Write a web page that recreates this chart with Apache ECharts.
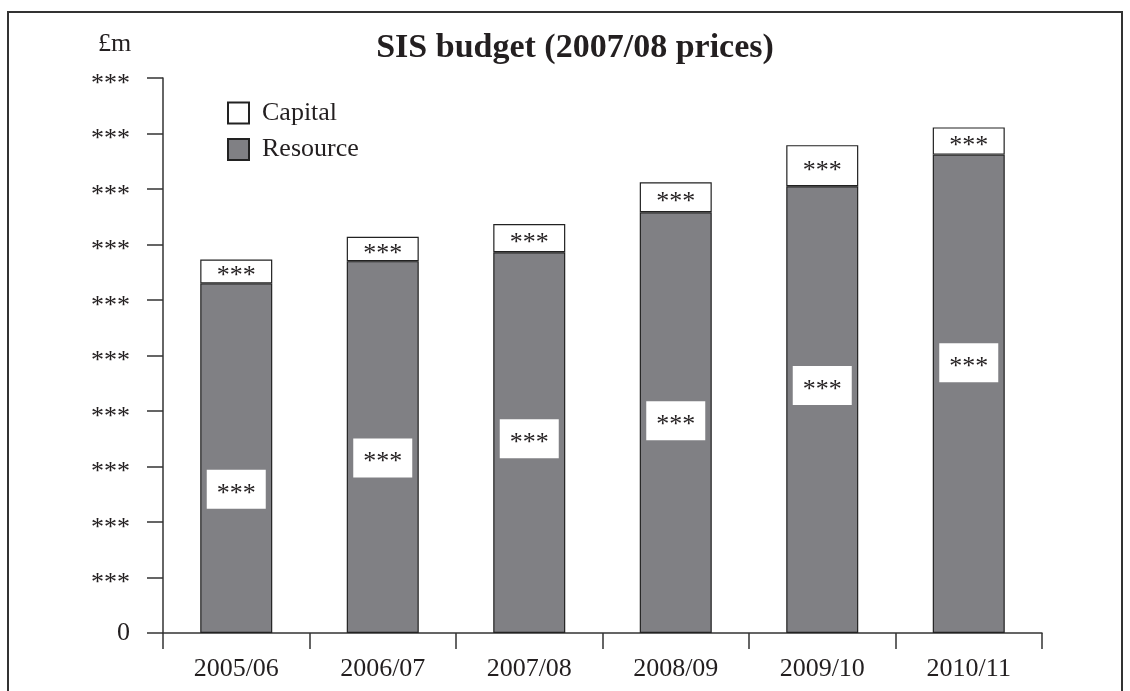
<!DOCTYPE html>
<html>
<head>
<meta charset="utf-8">
<script src="https://cdn.jsdelivr.net/npm/echarts@6/dist/echarts.min.js"></script>
<style>
  html, body { margin: 0; padding: 0; background: #fff; }
  #chart { width: 1130px; height: 691px; }
</style>
</head>
<body>
<div id="chart"></div>
<script>
// SIS budget, values (axis labels are masked, unit = one tick)
var years = ['2005/06', '2006/07', '2007/08', '2008/09', '2009/10', '2010/11'];
var resource = [6.30, 6.70, 6.86, 7.58, 8.05, 8.62];
var capital = [0.43, 0.44, 0.51, 0.54, 0.74, 0.49];
var yTicks = ['0', '***', '***', '***', '***', '***', '***', '***', '***', '***', '***'];

var font = 'Liberation Serif';
var ink = '#231f20';
// vertical nudge of the white label boxes on the resource bars
var resLabelDy = [31, 11, -4, -2, -24, -31];

var chart = echarts.init(document.getElementById('chart'));

var resData = resource.map(function (v, i) {
    return { value: v, label: { offset: [0, resLabelDy[i]] } };
});

chart.setOption({
    animation: false,
    backgroundColor: '#fff',
    textStyle: { fontFamily: font, color: ink },
    title: [
        {
            text: 'SIS budget (2007/08 prices)',
            left: 570, top: 26, textAlign: 'center',
            textStyle: { fontFamily: font, fontWeight: 'bold', fontSize: 34, color: ink }
        },
        {
            text: '£m',
            left: 93, top: 26,
            textStyle: { fontFamily: font, fontWeight: 'normal', fontSize: 26, color: ink }
        }
    ],
    legend: {
        orient: 'vertical',
        left: 222, top: 95,
        itemWidth: 21, itemHeight: 21, itemGap: 10.5,
        icon: 'rect',
        data: ['Capital', 'Resource'],
        textStyle: { fontFamily: font, fontSize: 26, color: ink, padding: [0, 0, 0, 8] },
        selectedMode: false
    },
    grid: { left: 163, right: 88, top: 78, bottom: 58 },
    xAxis: {
        type: 'category',
        data: years,
        axisLine: { lineStyle: { color: '#333', width: 1.5 } },
        axisTick: { show: true, length: 16, lineStyle: { color: '#333', width: 1.5 } },
        axisLabel: { fontFamily: font, fontSize: 26, color: ink, margin: 23 }
    },
    yAxis: {
        type: 'value',
        min: 0, max: 10, interval: 1,
        axisLine: { show: true, lineStyle: { color: '#333', width: 1.5 } },
        axisTick: { show: true, length: 16, lineStyle: { color: '#333', width: 1.5 } },
        splitLine: { show: false },
        axisLabel: {
            fontFamily: font, fontSize: 26, color: ink, margin: 33,
            formatter: function (v) {
                var t = yTicks[Math.round(v)];
                return t === '0' ? '{z|0}' : '{s|' + t + '}';
            },
            rich: {
                z: { fontFamily: font, fontSize: 26, color: ink },
                s: { fontFamily: font, fontSize: 26, color: ink, padding: [12, 0, 0, 0] }
            }
        }
    },
    series: [
        {
            name: 'Resource',
            type: 'bar',
            stack: 'budget',
            barWidth: 72,
            data: resData,
            itemStyle: { color: '#808084', borderColor: '#222', borderWidth: 1.2 },
            label: {
                show: true, position: 'inside',
                formatter: '{a|***}',
                backgroundColor: '#fff',
                padding: [7, 10, 6, 10],
                rich: {
                    a: { fontFamily: font, fontSize: 26, lineHeight: 26, color: ink, padding: [8, 0, 0, 0] }
                }
            }
        },
        {
            name: 'Capital',
            type: 'bar',
            stack: 'budget',
            barWidth: 72,
            data: capital,
            itemStyle: { color: '#fff', borderColor: '#222', borderWidth: 1.2 },
            label: {
                show: true, position: 'inside',
                formatter: '***',
                offset: [0, 5],
                fontFamily: font, fontSize: 26, color: ink
            }
        }
    ],
    graphic: [
        {
            type: 'rect',
            shape: { x: 8, y: 12, width: 1114, height: 700 },
            style: { fill: null, stroke: '#333', lineWidth: 2 },
            silent: true
        }
    ]
});
</script>
</body>
</html>
